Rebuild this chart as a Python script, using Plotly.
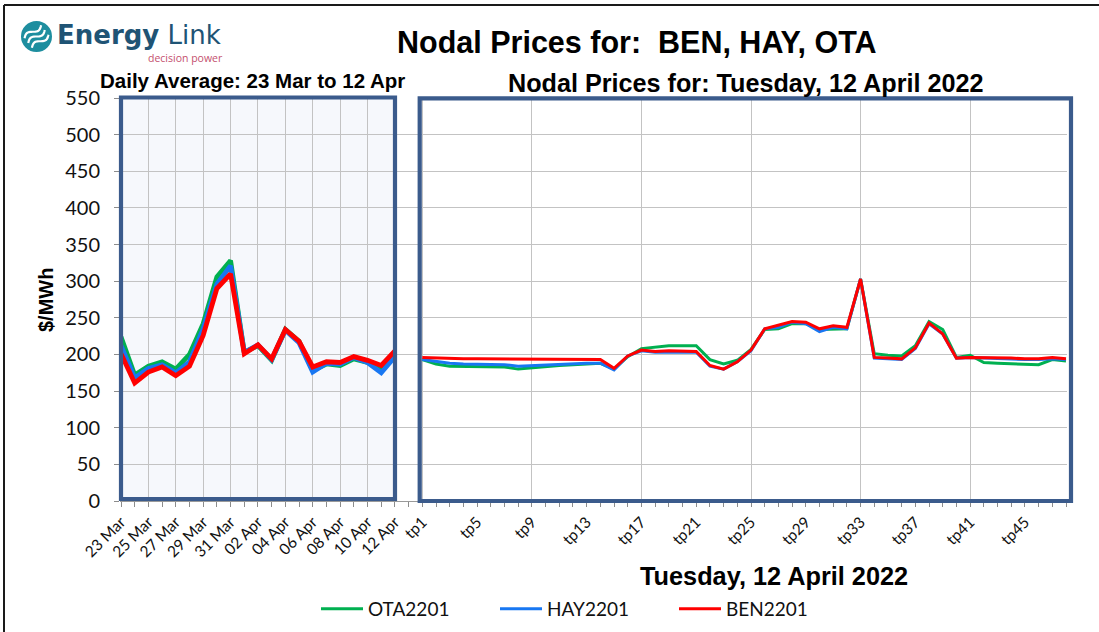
import math
import plotly.graph_objects as go

W, H = 1099, 632

# ---------------- data ----------------
days = ["23 Mar", "24 Mar", "25 Mar", "26 Mar", "27 Mar", "28 Mar", "29 Mar",
        "30 Mar", "31 Mar", "01 Apr", "02 Apr", "03 Apr", "04 Apr", "05 Apr",
        "06 Apr", "07 Apr", "08 Apr", "09 Apr", "10 Apr", "11 Apr", "12 Apr"]
ota_daily = [224, 172, 184, 190, 180, 200, 242, 306, 328, 203, 212, 192, 234, 218,
             178, 187, 185, 194, 189, 182, 202]
hay_daily = [212, 168, 181, 186, 175, 190, 235, 296, 321, 203, 213, 193, 233, 216,
             176, 188, 187, 196, 189, 175, 197]
ben_daily = [201, 161, 176, 183, 171, 184, 226, 290, 310, 201, 213, 194, 234, 218,
             183, 190, 189, 197, 192, 185, 205]

tps = ["tp%d" % i for i in range(1, 49)]
ota_tp = [193, 187, 184, 184, 184, 184, 183, 180, 182, 183, 185, 186, 187, 188, 180, 197,
          208, 210, 212, 212, 212, 193, 187, 192, 207, 234, 235, 242, 242, 234, 235, 235,
          303, 201, 199, 198, 212, 245, 234, 196, 199, 189, 188, 187, 186, 186, 193, 191]
hay_tp = [193, 190, 188, 187, 187, 187, 186, 184, 185, 186, 187, 187, 188, 188, 179, 198,
          205, 203, 203, 203, 203, 184, 180, 190, 205, 235, 237, 244, 242, 231, 237, 235,
          303, 195, 194, 193, 208, 242, 228, 195, 196, 195, 195, 194, 193, 193, 194, 193]
ben_tp = [196, 195, 194, 194, 194, 194, 194, 193, 194, 194, 194, 194, 194, 193, 181, 198,
          206, 204, 205, 204, 204, 185, 180, 190, 206, 235, 240, 245, 244, 235, 239, 237,
          303, 196, 195, 194, 209, 243, 228, 195, 196, 196, 196, 195, 194, 194, 196, 194]

series_names = ["OTA2201", "HAY2201", "BEN2201"]
series_colors = ["#00B050", "#1877F2", "#FF0000"]
y_ticks = [0, 50, 100, 150, 200, 250, 300, 350, 400, 450, 500, 550]

# ---------------- helpers ----------------
def px(x):
    return x / W


def py(y):
    return 1 - y / H


all_labels = days + [""] + tps
positions = list(range(len(all_labels)))
day_pos = positions[:len(days)]
tp_pos = positions[len(days) + 1:]

tick_text = []
for i, lab in enumerate(all_labels):
    if i < len(days):
        tick_text.append(lab if i % 2 == 0 else "")
    elif lab:
        k = i - len(days) - 1
        tick_text.append(lab if k % 4 == 0 else "")
    else:
        tick_text.append("")

grid_pos = [p for p in day_pos if p % 2 == 0] + \
           [p for k, p in enumerate(tp_pos) if k % 8 == 0] + [tp_pos[-1]]

fig = go.Figure()

daily = [ota_daily, hay_daily, ben_daily]
tpv = [ota_tp, hay_tp, ben_tp]
for name, col, vals in zip(series_names, series_colors, daily):
    fig.add_trace(go.Scatter(x=day_pos, y=vals, mode="lines", name=name,
                             legendgroup=name, showlegend=False,
                             xaxis="x", yaxis="y",
                             line=dict(color=col, width=4.8)))
for name, col, vals in zip(series_names, series_colors, tpv):
    fig.add_trace(go.Scatter(x=tp_pos, y=vals, mode="lines", name=name,
                             legendgroup=name, showlegend=True,
                             xaxis="x2", yaxis="y",
                             line=dict(color=col, width=3)))

x0p, x1p = 120, 1067
unit = (1066 - 121) / 69.0
xr = [-(121 - x0p) / unit, 69 + (x1p - 1066) / unit]

tickfont = dict(family="Lato, Carlito, sans-serif", color="#111111")

fig.update_layout(
    template="none",
    width=W, height=H,
    margin=dict(l=0, r=0, t=0, b=0, pad=0, autoexpand=False),
    paper_bgcolor="white",
    plot_bgcolor="rgba(0,0,0,0)",
    xaxis=dict(
        domain=[px(x0p), px(x1p)], range=xr, anchor="y", automargin=False,
        tickmode="array", tickvals=positions, ticktext=tick_text,
        tickangle=-45, ticks="outside", ticklen=5, tickcolor="#8c8c8c",
        tickwidth=1, showline=True, linecolor="#9a9a9a", linewidth=1,
        showgrid=False, zeroline=False,
        tickfont=dict(size=15.5, **tickfont),
    ),
    xaxis2=dict(
        domain=[px(x0p), px(x1p)], range=xr, overlaying="x", anchor="y",
        automargin=False,
        tickmode="array", tickvals=grid_pos, showticklabels=False, ticks="",
        showgrid=True, gridcolor="#C3C3C3", gridwidth=1.3, zeroline=False,
        showline=False,
    ),
    yaxis=dict(
        domain=[py(501), py(98)], range=[0, 550], anchor="x", automargin=False,
        tickmode="array", tickvals=y_ticks,
        ticks="outside", ticklen=5, tickcolor="#8c8c8c",
        ticklabelstandoff=10,
        showgrid=True, gridcolor="#C3C3C3", gridwidth=1.3,
        zeroline=False, showline=False,
        tickfont=dict(size=20, **tickfont),
    ),
    showlegend=True,
    legend=dict(orientation="h", x=px(316), xanchor="left", y=py(609),
                yanchor="middle", font=dict(size=19, **tickfont),
                itemwidth=42, entrywidth=122, entrywidthmode="pixels",
                bgcolor="rgba(0,0,0,0)", borderwidth=0),
)

box_col = "#3B5B8C"
shapes = [
    # left panel background
    dict(type="rect", xref="paper", yref="paper", x0=px(121), x1=px(395),
         y0=py(499), y1=py(97.5), fillcolor="#F6F8FC", line=dict(width=0),
         layer="below"),
    # panel borders
    dict(type="rect", xref="paper", yref="paper", x0=px(121), x1=px(395),
         y0=py(499), y1=py(97.5), line=dict(color=box_col, width=4.2),
         layer="above"),
    dict(type="rect", xref="paper", yref="paper", x0=px(419.7), x1=px(1071),
         y0=py(501), y1=py(98.3), line=dict(color=box_col, width=4.2),
         layer="above"),
    # outer frame (top and left edges)
    dict(type="line", xref="paper", yref="paper", x0=px(4), x1=px(1099),
         y0=py(5), y1=py(5), line=dict(color="#1a1a1a", width=2)),
    dict(type="line", xref="paper", yref="paper", x0=px(4), x1=px(4),
         y0=py(5), y1=py(632), line=dict(color="#1a1a1a", width=2)),
    # logo circle
    dict(type="circle", xref="paper", yref="paper", x0=px(21), x1=px(52),
         y0=py(52), y1=py(21), fillcolor="#1E8E9F", line=dict(width=0)),
]

# logo waves (decorative)
cx, cy = 36.5, 36.5
ang = math.radians(-38)
for off in (-6.0, 0.0, 6.0):
    pts = []
    for s in range(21):
        t = -1 + 2 * s / 20
        lx = 10.5 * t
        ly = 2.6 * math.sin(math.pi * t) + off
        rx = lx * math.cos(ang) - ly * math.sin(ang)
        ry = lx * math.sin(ang) + ly * math.cos(ang)
        pts.append((px(cx + rx), py(cy + ry)))
    path = "M " + " L ".join("%.5f,%.5f" % p for p in pts)
    shapes.append(dict(type="path", xref="paper", yref="paper", path=path,
                       line=dict(color="white", width=2.2)))
fig.update_layout(shapes=shapes)

bold = dict(family="Liberation Sans, Arial, sans-serif", color="black")
ann = [
    dict(text="<b>Nodal Prices for:&nbsp; BEN, HAY, OTA</b>", x=px(637), y=py(42),
         font=dict(size=30.5, **bold)),
    dict(text="<b>Daily Average: 23 Mar to 12 Apr</b>", x=px(252), y=py(80),
         font=dict(size=20.5, **bold)),
    dict(text="<b>Nodal Prices for: Tuesday, 12 April 2022</b>", x=px(745), y=py(83),
         font=dict(size=25.2, **bold)),
    dict(text="<b>Tuesday, 12 April 2022</b>", x=px(774), y=py(576),
         font=dict(size=25.3, **bold)),
    dict(text="<b>$/MWh</b>", x=px(46), y=py(300), textangle=-90,
         font=dict(size=20, **bold)),
    dict(text="<b>Energy</b> Link", x=px(55), y=py(35), xanchor="left",
         font=dict(size=26, family="DejaVu Sans, sans-serif", color="#1F5475")),
    dict(text="decision power", x=px(225), y=py(58.5), xanchor="right",
         font=dict(size=10.5, family="Open Sans, Lato, sans-serif", color="#C4506E")),
]
for a in ann:
    a.setdefault("xanchor", "center")
    a.update(xref="paper", yref="paper", yanchor="middle", showarrow=False)
fig.update_layout(annotations=ann)

fig.write_html("out.html", config={"displayModeBar": False},
               post_script="document.body.style.margin='0';")
